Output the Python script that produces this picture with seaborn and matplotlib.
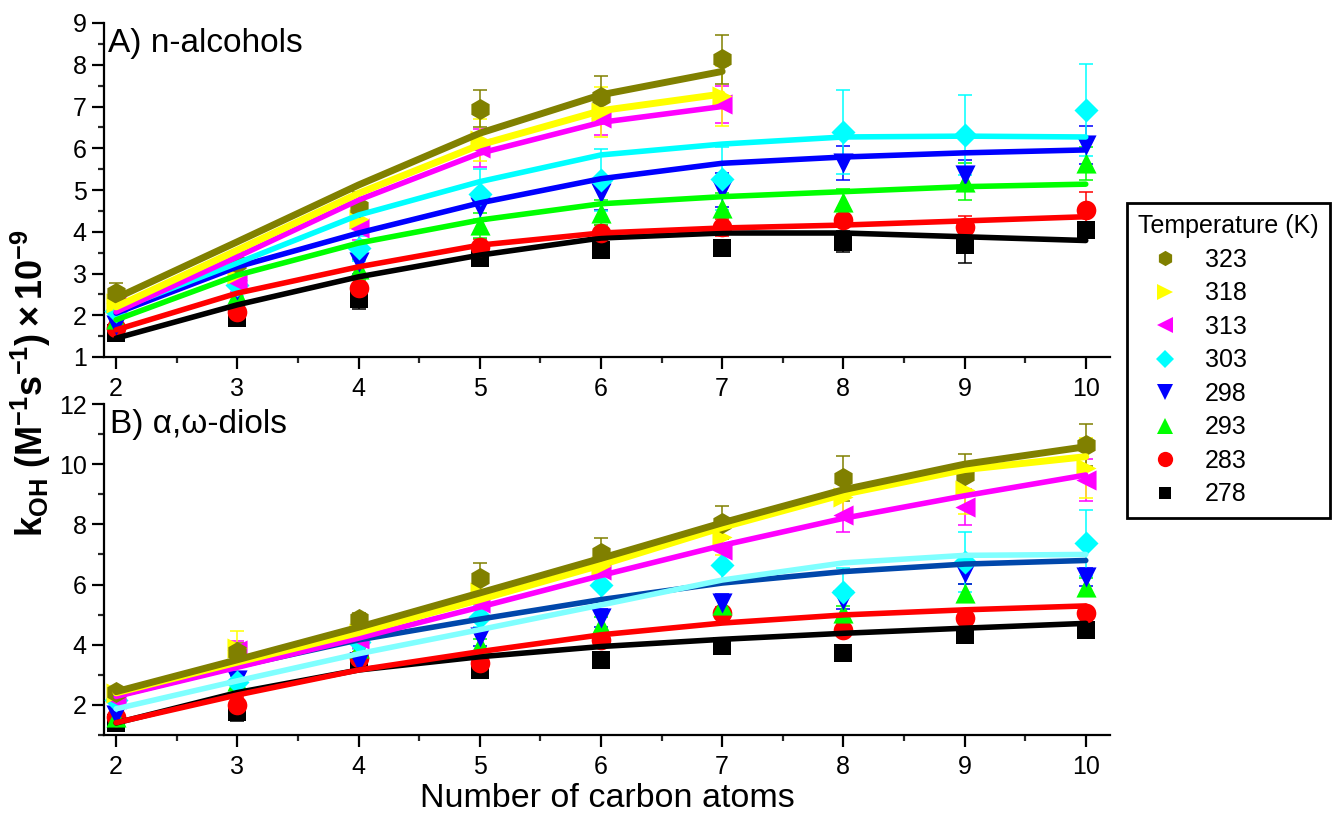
import numpy as np
import pandas as pd
import matplotlib
matplotlib.use("Agg")
import matplotlib.pyplot as plt
import seaborn as sns
from matplotlib.ticker import MultipleLocator
from matplotlib.lines import Line2D

# ---------------- data ----------------
temps = ["323", "318", "313", "303", "298", "293", "283", "278"]

x_short = [2, 3, 4, 5, 6, 7]
x_long = [2, 3, 4, 5, 6, 7, 8, 9, 10]

# A) n-alcohols : measured points, error bars, fitted curve
alc_323 = [2.53, 3.25, 4.60, 6.95, 7.23, 8.13]
alc_323_err = [0.25, 0.30, 0.35, 0.45, 0.50, 0.58]
alc_323_fit = [2.41, 3.76, 5.12, 6.36, 7.28, 7.84]

alc_318 = [2.30, 3.00, 4.30, 6.20, 6.87, 7.25]
alc_318_err = [0.20, 0.30, 0.35, 0.50, 0.60, 0.72]
alc_318_fit = [2.20, 3.56, 4.92, 6.08, 6.90, 7.30]

alc_313 = [2.29, 2.80, 4.10, 6.00, 6.72, 7.05]
alc_313_err = [0.20, 0.25, 0.30, 0.45, 0.40, 0.45]
alc_313_fit = [2.08, 3.40, 4.76, 5.88, 6.62, 7.00]

alc_303 = [2.10, 2.72, 3.60, 4.90, 5.24, 5.27, 6.39, 6.32, 6.92]
alc_303_err = [0.20, 0.25, 0.30, 0.60, 0.75, 0.75, 1.00, 0.95, 1.10]
alc_303_fit = [2.13, 3.25, 4.40, 5.20, 5.84, 6.10, 6.27, 6.29, 6.27]

alc_298 = [1.77, 2.60, 3.28, 4.60, 4.92, 5.00, 5.65, 5.36, 6.08]
alc_298_err = [0.20, 0.25, 0.30, 0.35, 0.40, 0.40, 0.40, 0.35, 0.45]
alc_298_fit = [2.05, 3.16, 3.97, 4.69, 5.27, 5.64, 5.79, 5.89, 5.96]

alc_293 = [1.90, 2.50, 3.10, 4.15, 4.45, 4.57, 4.72, 5.20, 5.64]
alc_293_err = [0.15, 0.20, 0.25, 0.30, 0.30, 0.35, 0.30, 0.45, 0.40]
alc_293_fit = [1.89, 2.96, 3.73, 4.28, 4.67, 4.84, 4.96, 5.08, 5.14]

alc_283 = [1.70, 2.08, 2.65, 3.63, 3.97, 4.11, 4.28, 4.12, 4.52]
alc_283_err = [0.15, 0.20, 0.25, 0.20, 0.20, 0.20, 0.30, 0.25, 0.43]
alc_283_fit = [1.65, 2.53, 3.16, 3.68, 3.97, 4.09, 4.16, 4.26, 4.36]

alc_278 = [1.57, 1.93, 2.40, 3.37, 3.56, 3.60, 3.76, 3.68, 4.04]
alc_278_err = [0.10, 0.15, 0.25, 0.15, 0.15, 0.15, 0.25, 0.43, 0.20]
alc_278_fit = [1.45, 2.25, 2.92, 3.44, 3.85, 3.97, 3.97, 3.88, 3.79]

# B) alpha,omega-diols (no fitted curve shown for 293 K)
dio_323 = [2.44, 3.77, 4.85, 6.21, 7.04, 8.05, 9.53, 9.64, 10.64]
dio_323_err = [0.15, 0.30, 0.20, 0.50, 0.50, 0.55, 0.75, 0.70, 0.70]
dio_323_fit = [2.44, 3.50, 4.58, 5.72, 6.87, 8.05, 9.15, 10.00, 10.58]

dio_318 = [2.40, 3.90, 4.40, 5.76, 6.60, 7.59, 8.92, 9.14, 9.86]
dio_318_err = [0.15, 0.55, 0.30, 0.50, 0.50, 0.60, 0.70, 0.80, 1.00]
dio_318_fit = [2.40, 3.42, 4.40, 5.50, 6.65, 7.90, 9.00, 9.82, 10.25]

dio_313 = [2.20, 3.83, 4.20, 5.38, 6.50, 7.15, 8.31, 8.59, 9.47]
dio_313_err = [0.15, 0.30, 0.30, 0.40, 0.45, 0.40, 0.55, 0.60, 0.70]
dio_313_fit = [2.28, 3.25, 4.22, 5.25, 6.30, 7.30, 8.20, 8.95, 9.64]

dio_303 = [2.17, 2.77, 4.10, 4.93, 5.99, 6.65, 5.76, 6.76, 7.37]
dio_303_err = [0.15, 0.20, 0.25, 0.35, 0.50, 0.60, 0.80, 1.00, 1.10]
dio_303_fit = [1.87, 2.80, 3.70, 4.50, 5.32, 6.15, 6.72, 6.97, 7.00]

dio_298 = [1.67, 2.83, 3.44, 4.27, 4.88, 5.38, 5.49, 6.38, 6.26]
dio_298_err = [0.10, 0.20, 0.20, 0.30, 0.30, 0.30, 0.30, 0.35, 0.30]
dio_298_fit = [2.30, 3.28, 4.16, 4.85, 5.50, 6.05, 6.43, 6.68, 6.80]

dio_293 = [1.61, 2.80, 3.88, 4.00, 4.66, 5.32, 5.05, 5.71, 5.93]
dio_293_err = [0.10, 0.20, 0.20, 0.20, 0.25, 0.25, 0.25, 0.30, 0.30]
dio_293_fit = None

dio_283 = [1.60, 2.00, 3.55, 3.39, 4.16, 5.05, 4.49, 4.88, 5.05]
dio_283_err = [0.10, 0.25, 0.20, 0.20, 0.25, 0.20, 0.20, 0.20, 0.20]
dio_283_fit = [1.41, 2.33, 3.16, 3.77, 4.33, 4.72, 4.99, 5.16, 5.29]

dio_278 = [1.40, 1.78, 3.45, 3.16, 3.50, 3.96, 3.72, 4.33, 4.49]
dio_278_err = [0.10, 0.30, 0.20, 0.20, 0.15, 0.20, 0.15, 0.20, 0.20]
dio_278_fit = [1.40, 2.41, 3.16, 3.60, 3.94, 4.18, 4.38, 4.55, 4.71]

# ---------------- styles ----------------
marker_color = {"323": "#808000", "318": "#FFFF00", "313": "#FF00FF", "303": "#00FFFF",
                "298": "#0000FF", "293": "#00FF00", "283": "#FF0000", "278": "#000000"}
markers = {"323": "h", "318": ">", "313": "<", "303": "D",
           "298": "v", "293": "^", "283": "o", "278": "s"}
msize = {"323": 230, "318": 210, "313": 210, "303": 150,
         "298": 210, "293": 210, "283": 200, "278": 150}
line_color_alc = dict(marker_color)
line_color_dio = dict(marker_color)
line_color_dio["298"] = "#0047AB"
line_color_dio["303"] = "#80FFFF"
line_w = {"323": 5.0, "318": 5.0, "313": 4.0, "303": 4.0,
          "298": 4.0, "293": 4.0, "283": 4.0, "278": 4.0}

alc = {"323": (x_short, alc_323, alc_323_err, alc_323_fit),
       "318": (x_short, alc_318, alc_318_err, alc_318_fit),
       "313": (x_short, alc_313, alc_313_err, alc_313_fit),
       "303": (x_long, alc_303, alc_303_err, alc_303_fit),
       "298": (x_long, alc_298, alc_298_err, alc_298_fit),
       "293": (x_long, alc_293, alc_293_err, alc_293_fit),
       "283": (x_long, alc_283, alc_283_err, alc_283_fit),
       "278": (x_long, alc_278, alc_278_err, alc_278_fit)}
dio = {"323": (x_long, dio_323, dio_323_err, dio_323_fit),
       "318": (x_long, dio_318, dio_318_err, dio_318_fit),
       "313": (x_long, dio_313, dio_313_err, dio_313_fit),
       "303": (x_long, dio_303, dio_303_err, dio_303_fit),
       "298": (x_long, dio_298, dio_298_err, dio_298_fit),
       "293": (x_long, dio_293, dio_293_err, dio_293_fit),
       "283": (x_long, dio_283, dio_283_err, dio_283_fit),
       "278": (x_long, dio_278, dio_278_err, dio_278_fit)}

# ---------------- figure ----------------
sns.set_theme(style="ticks")
plt.rcParams["font.family"] = ["Liberation Sans", "DejaVu Sans"]
plt.rcParams["mathtext.fontset"] = "custom"
plt.rcParams["mathtext.rm"] = "Liberation Sans"
plt.rcParams["mathtext.bf"] = "Liberation Sans:bold"
plt.rcParams["mathtext.it"] = "Liberation Sans:italic"
plt.rcParams["text.color"] = "black"
plt.rcParams["axes.labelcolor"] = "black"

fig = plt.figure(figsize=(13.33, 8.15), dpi=100)
W, H = 1333, 815
ax1 = fig.add_axes([104 / W, 1 - 357 / H, 1006 / W, 334 / H])
ax2 = fig.add_axes([104 / W, 1 - 735 / H, 1006 / W, 331 / H])


def draw(ax, table, line_colors):
    for t in temps[::-1]:
        xs, ys, es, fit = table[t]
        c = marker_color[t]
        df = pd.DataFrame({"x": xs, "y": ys})
        ax.errorbar(xs, ys, yerr=es, fmt="none", ecolor=c, elinewidth=1.1,
                    capsize=5, capthick=1.1, zorder=2)
        sns.scatterplot(data=df, x="x", y="y", ax=ax, color=c, marker=markers[t],
                        s=msize[t], linewidth=0, zorder=3, legend=False)
    for t in temps[::-1]:
        xs, ys, es, fit = table[t]
        if fit is None:
            continue
        dff = pd.DataFrame({"x": xs, "fit": fit})
        sns.lineplot(data=dff, x="x", y="fit", ax=ax, color=line_colors[t],
                     lw=line_w[t], zorder=4, legend=False, estimator=None, sort=True)


draw(ax1, alc, line_color_alc)
draw(ax2, dio, line_color_dio)

for ax in (ax1, ax2):
    ax.set_xlim(1.9, 10.2)
    ax.xaxis.set_major_locator(MultipleLocator(1))
    ax.xaxis.set_minor_locator(MultipleLocator(0.5))
    ax.set_xlabel("")
    ax.set_ylabel("")
    sns.despine(ax=ax)
    for s in ("left", "bottom"):
        ax.spines[s].set_linewidth(1.6)
        ax.spines[s].set_color("black")
    ax.tick_params(which="major", direction="out", length=8.5, width=1.6,
                   labelsize=18, colors="black")
    ax.tick_params(which="minor", direction="out", length=4.5, width=1.6)
    ax.tick_params(axis="x", which="major", pad=6)
    ax.tick_params(axis="y", which="major", pad=4)
    ax.set_facecolor("white")

ax1.set_ylim(1, 9)
ax1.yaxis.set_major_locator(MultipleLocator(1))
ax1.yaxis.set_minor_locator(MultipleLocator(0.5))
ax2.set_ylim(1, 12)
ax2.yaxis.set_major_locator(MultipleLocator(2))
ax2.yaxis.set_minor_locator(MultipleLocator(1))

ax1.text(0.004, 0.985, "A) n-alcohols", transform=ax1.transAxes,
         fontsize=24, va="top", ha="left", color="black")
ax2.text(0.006, 0.985, "B) \u03b1,\u03c9-diols", transform=ax2.transAxes,
         fontsize=24, va="top", ha="left", color="black")

ax2.set_xlabel("Number of carbon atoms", fontsize=24.5, labelpad=3, color="black")

fig.text(0.023, 0.53, r"$\mathbf{k_{OH}\ (M^{-1}s^{-1})\times10^{-9}}$",
         rotation=90, fontsize=26, ha="center", va="center", color="black")

handles = [Line2D([], [], ls="none", marker=markers[t], color=marker_color[t],
                  markersize=11 if markers[t] not in ("D", "s") else 9,
                  markeredgewidth=0) for t in temps]
leg = fig.legend(handles, temps, title="Temperature (K)", loc="upper left",
                 bbox_to_anchor=(1127 / W, 1 - 203 / H), fontsize=18,
                 title_fontsize=18, frameon=True, fancybox=False,
                 edgecolor="black", framealpha=1, borderpad=0.45,
                 labelspacing=0.38, handlelength=2.1, handletextpad=0.55,
                 borderaxespad=0)
leg.get_frame().set_linewidth(2.0)
leg._legend_box.align = "left"
for txt in leg.get_texts():
    txt.set_color("black")
leg.get_title().set_color("black")

fig.savefig("out.png", dpi=100, facecolor="white")
